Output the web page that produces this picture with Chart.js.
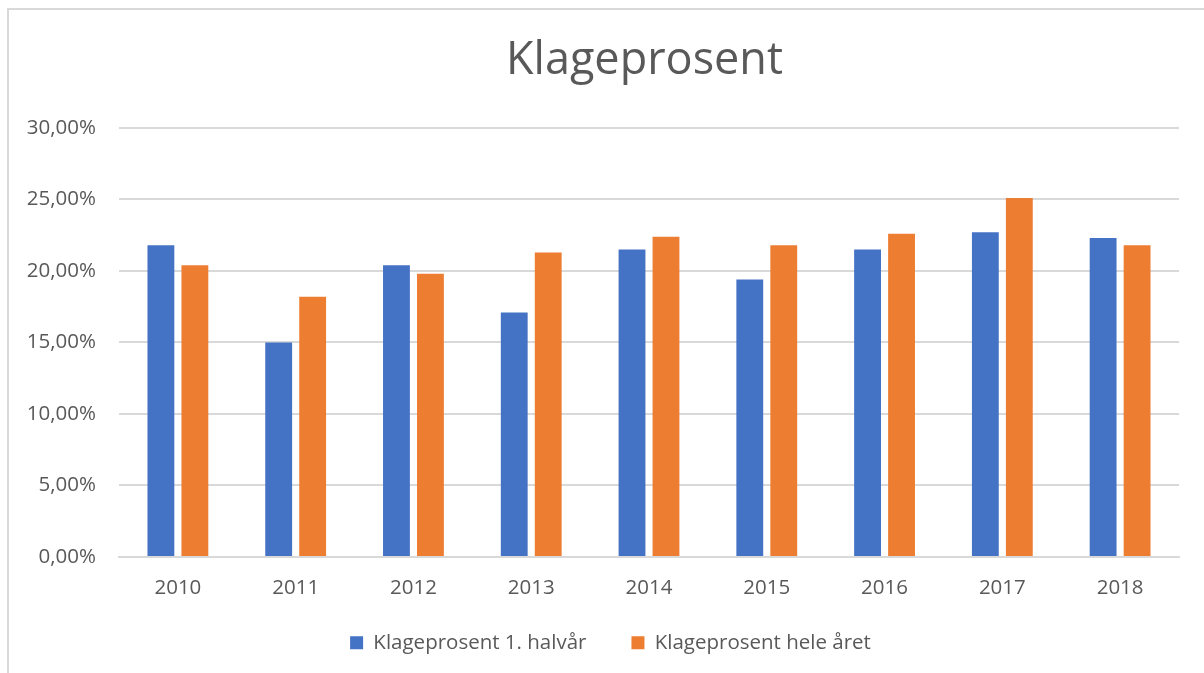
<!DOCTYPE html>
<html>
<head>
<meta charset="utf-8">
<script src="https://cdn.jsdelivr.net/npm/chart.js@4.4.0/dist/chart.umd.min.js"></script>
<style>
  body { margin: 0; background: #fff; }
  #wrap { position: relative; width: 1204px; height: 673px; overflow: hidden; }
  #frame { position: absolute; left: 7px; top: 8px; width: 1300px; height: 800px;
           border-left: 2px solid #d9d9d9; border-top: 2px solid #d9d9d9; }
  canvas { position: absolute; left: 0; top: 0; }
</style>
</head>
<body>
<div id="wrap">
  <div id="frame"></div>
  <canvas id="myChart" width="1204" height="673"></canvas>
</div>
<script>
var years = ['2010', '2011', '2012', '2013', '2014', '2015', '2016', '2017', '2018'];
var halvar = [21.8, 15.0, 20.4, 17.1, 21.5, 19.4, 21.5, 22.7, 22.3];
var heleAret = [20.4, 18.2, 19.8, 21.3, 22.4, 21.8, 22.6, 25.1, 21.8];

var textColor = '#595959';
var font = "'Open Sans', 'Liberation Sans', sans-serif";

// nudge title and legend off the plain canvas centre; pull the legend up
var blockShift = {
    id: 'blockShift',
    afterLayout: function(chart) {
        chart.titleBlock.left += 45;
        chart.titleBlock.right += 45;
        var lg = chart.legend;
        lg.left += 11;
        lg.right += 11;
        lg.top -= 24;
        lg.bottom -= 24;
    }
};

var ctx = document.getElementById('myChart').getContext('2d');
var myChart = new Chart(ctx, {
    type: 'bar',
    data: {
        labels: years,
        datasets: [{
            label: 'Klageprosent 1. halvår',
            data: halvar,
            backgroundColor: '#4472C4',
            categoryPercentage: 0.577,
            barPercentage: 0.79
        }, {
            label: 'Klageprosent hele året',
            data: heleAret,
            backgroundColor: '#ED7D31',
            categoryPercentage: 0.577,
            barPercentage: 0.79
        }]
    },
    plugins: [blockShift],
    options: {
        responsive: false,
        animation: false,
        layout: { padding: { left: 20, right: 25, top: 0, bottom: -14 } },
        plugins: {
            title: {
                display: true,
                text: 'Klageprosent',
                color: textColor,
                font: { family: font, size: 45, weight: 'normal' },
                padding: { top: 34, bottom: 40 }
            },
            legend: {
                position: 'bottom',
                labels: {
                    color: textColor,
                    font: { family: font, size: 20.5 },
                    boxWidth: 13,
                    boxHeight: 13,
                    padding: 45
                }
            },
            tooltip: { enabled: false }
        },
        scales: {
            x: {
                grid: { display: false },
                border: { color: '#d9d9d9', width: 2 },
                ticks: { color: textColor, font: { family: font, size: 20.5 }, padding: 11 }
            },
            y: {
                min: 0,
                max: 30,
                grid: { color: '#d9d9d9', lineWidth: 2, drawTicks: false },
                border: { display: false },
                afterFit: function(scale) { scale.width = 99; },
                ticks: {
                    stepSize: 5,
                    color: textColor,
                    font: { family: font, size: 20.5 },
                    padding: 23,
                    callback: function(v) { return v.toFixed(2).replace('.', ',') + '%'; }
                }
            }
        }
    }
});
</script>
</body>
</html>
